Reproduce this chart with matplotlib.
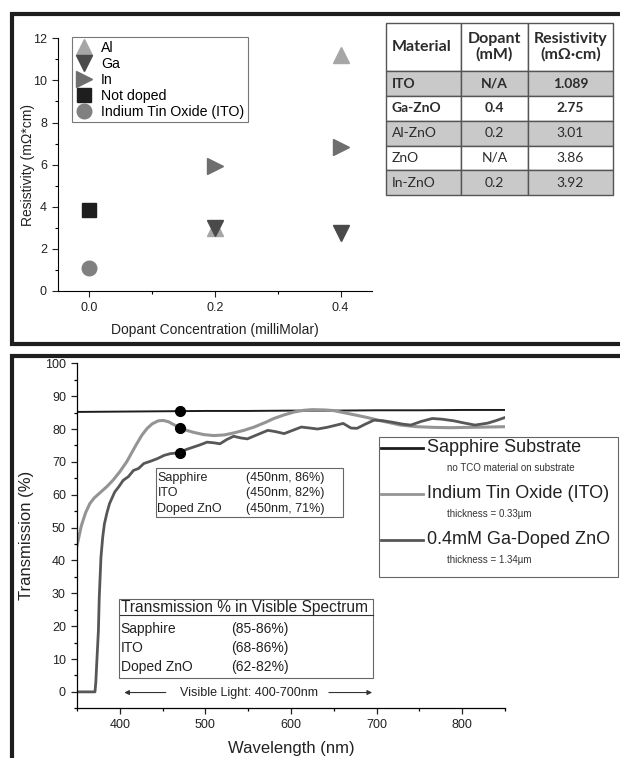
import matplotlib.pyplot as plt
from matplotlib.lines import Line2D
from matplotlib.patches import Rectangle

plt.rcParams['font.family'] = ['Liberation Sans', 'DejaVu Sans']

# --- top panel data: resistivity vs dopant concentration
dopant_al = [0.2, 0.4]
res_al = [3.01, 11.2]
dopant_ga = [0.2, 0.4]
res_ga = [3.0, 2.75]
dopant_in = [0.2, 0.4]
res_in = [5.92, 6.85]
dopant_undoped = [0.0]
res_undoped = [3.86]
dopant_ito = [0.0]
res_ito = [1.089]

table_header = ['Material', 'Dopant\n(mM)', 'Resistivity\n(mΩ·cm)']
table_rows = [
    ['ITO', 'N/A', '1.089'],
    ['Ga-ZnO', '0.4', '2.75'],
    ['Al-ZnO', '0.2', '3.01'],
    ['ZnO', 'N/A', '3.86'],
    ['In-ZnO', '0.2', '3.92'],
]

# --- bottom panel data: transmission spectra
wl_sapphire = [350, 400, 450, 500, 550, 600, 650, 700, 750, 800, 850]
tr_sapphire = [85.2, 85.3, 85.4, 85.5, 85.5, 85.6, 85.6, 85.7, 85.7, 85.8, 85.8]

wl_ito = [350, 355, 360, 365, 370, 376, 385, 392, 400, 408, 414, 420, 426, 432,
          438, 445, 451, 457, 464, 470, 478, 486, 498, 510, 522, 533, 545, 557,
          570, 580, 592, 604, 615, 625, 640, 650, 665, 680, 689, 705, 728, 747,
          767, 786, 806, 830, 850]
tr_ito = [44.5, 50.5, 54.5, 57.3, 59.0, 60.4, 62.5, 64.4, 67.0, 70.0, 72.8, 75.6,
          78.2, 80.2, 81.6, 82.5, 82.6, 82.2, 81.2, 80.4, 79.6, 79.0, 78.3, 78.0,
          78.2, 78.8, 79.6, 80.6, 82.0, 83.2, 84.3, 85.2, 85.7, 85.9, 85.8, 85.6,
          84.8, 84.0, 83.5, 82.5, 81.2, 80.7, 80.5, 80.4, 80.5, 80.6, 80.7]

wl_zno = [350, 371, 372, 373, 375, 376, 378, 380, 382, 385, 388, 394, 399, 404,
          410, 416, 422, 428, 436, 444, 452, 459, 470, 478, 486, 494, 502, 510,
          517, 525, 533, 541, 549, 560, 573, 582, 592, 602, 612, 622, 631, 642,
          650, 661, 670, 677, 687, 697, 708, 720, 730, 740, 752, 765, 776, 790,
          803, 815, 830, 840, 850]
tr_zno = [0.0, 0.0, 3.0, 8.4, 18.6, 28.8, 41.0, 47.0, 51.1, 54.5, 57.3, 60.8,
          62.5, 64.4, 65.5, 67.4, 68.0, 69.5, 70.2, 71.0, 72.0, 72.5, 72.8, 73.8,
          74.5, 75.2, 76.0, 75.8, 75.5, 76.8, 77.8, 77.3, 77.0, 78.2, 79.6, 79.2,
          78.6, 79.6, 80.6, 80.3, 80.0, 80.5, 81.0, 81.7, 80.3, 80.2, 81.5, 82.7,
          82.5, 82.0, 81.5, 81.2, 82.3, 83.2, 83.0, 82.5, 81.8, 81.2, 81.8, 82.6,
          83.5]

point_wl = [470, 470, 470]
point_tr = [85.5, 80.4, 72.8]

at450_names = ['Sapphire', 'ITO', 'Doped ZnO']
at450_values = ['(450nm, 86%)', '(450nm, 82%)', '(450nm, 71%)']
visible_names = ['Sapphire', 'ITO', 'Doped ZnO']
visible_ranges = ['(85-86%)', '(68-86%)', '(62-82%)']

legend_labels = ['Sapphire Substrate', 'Indium Tin Oxide (ITO)', '0.4mM Ga-Doped ZnO']
legend_notes = ['no TCO material on substrate', 'thickness = 0.33µm', 'thickness = 1.34µm']

col_sapphire = '#1c1c1c'
col_ito = '#949494'
col_zno = '#575757'

W, H = 620, 758
fig = plt.figure(figsize=(W / 100, H / 100), dpi=100)


def fx(px):
    return px / W


def fy(py):
    return 1 - py / H


# panel frames
frame_kw = dict(color='#1e1e1e', lw=3.0, transform=fig.transFigure, solid_capstyle='butt')
fig.add_artist(Line2D([fx(10), 1], [fy(14), fy(14)], **frame_kw))
fig.add_artist(Line2D([fx(10), 1], [fy(344), fy(344)], **frame_kw))
fig.add_artist(Line2D([fx(12), fx(12)], [fy(12), fy(346)], **frame_kw))
fig.add_artist(Line2D([fx(10), 1], [fy(355.5), fy(355.5)], **frame_kw))
fig.add_artist(Line2D([fx(12), fx(12)], [fy(354), 0], **frame_kw))

# ---------------- top scatter
ax1 = fig.add_axes([fx(58), fy(291), fx(372 - 58), (291 - 38.3) / H])
ax1.plot(dopant_al, res_al, '^', color='#a6a6a6', ms=11.5, label='Al')
ax1.plot(dopant_ga, res_ga, 'v', color='#4a4a4a', ms=11.5, label='Ga')
ax1.plot(dopant_in, res_in, '>', color='#6e6e6e', ms=11.5, label='In')
ax1.plot(dopant_undoped, res_undoped, 's', color='#1e1e1e', ms=9.5, label='Not doped')
ax1.plot(dopant_ito, res_ito, 'o', color='#808080', ms=10.5, label='Indium Tin Oxide (ITO)')
ax1.set_xlim(-0.05, 0.45)
ax1.set_ylim(0, 12)
ax1.set_xticks([0.0, 0.2, 0.4])
ax1.set_xticks([0.1, 0.3], minor=True)
ax1.set_yticks(range(0, 13, 2))
ax1.set_yticks(range(1, 12, 2), minor=True)
ax1.set_xticklabels(['0.0', '0.2', '0.4'])
ax1.tick_params(labelsize=9, colors='#222', length=4, width=0.8, pad=4)
ax1.tick_params(which='minor', length=2.5, width=0.8)
for s in ['top', 'right']:
    ax1.spines[s].set_visible(False)
for s in ['left', 'bottom']:
    ax1.spines[s].set_linewidth(0.8)
ax1.set_xlabel('Dopant Concentration (milliMolar)', fontsize=10, color='#222')
ax1.set_ylabel('Resistivity (mΩ*cm)', fontsize=10, color='#222')
ax1.xaxis.set_label_coords(0.5, -32 / 252.7)
ax1.yaxis.set_label_coords(-23 / 314, 0.5)
leg1 = ax1.legend(loc='upper left', bbox_to_anchor=(0.045, 1.005), fontsize=10.2,
                  frameon=True, fancybox=False, edgecolor='#555', borderpad=0.25,
                  labelspacing=0.14, handletextpad=0.6, handlelength=1.2,
                  borderaxespad=0)
leg1.get_frame().set_linewidth(0.8)

# ---------------- table
axt = fig.add_axes([fx(386), fy(195), fx(613 - 386), (195 - 23) / H])
axt.axis('off')
tbl = axt.table(cellText=[table_header] + table_rows,
                colWidths=[75, 67, 85], bbox=[0, 0, 1, 1], cellLoc='center')
tbl.auto_set_font_size(False)
row_h = 24.6
header_h = 48
shade = ['#c9c9c9', 'white', '#c9c9c9', 'white', '#c9c9c9']
for (r, c), cell in tbl.get_celld().items():
    cell.set_edgecolor('#555')
    cell.set_linewidth(1.0)
    cell.set_height(header_h if r == 0 else row_h)
    txt = cell.get_text()
    txt.set_fontfamily(['Lato', 'DejaVu Sans'])
    txt.set_color('#2b2b2b')
    if r == 0:
        txt.set_fontsize(11.5)
        txt.set_fontweight('bold')
        cell.set_facecolor('white')
        txt.set_linespacing(1.1)
    else:
        txt.set_fontsize(10)
        cell.set_facecolor(shade[r - 1])
        if r <= 2:
            txt.set_fontweight('bold')
    if c == 0:
        txt.set_horizontalalignment('left')
        cell.PAD = 0.08

# ---------------- bottom transmission
ax2 = fig.add_axes([fx(77), fy(708.3), fx(505 - 77), (708.3 - 363.3) / H])
ax2.plot(wl_sapphire, tr_sapphire, color=col_sapphire, lw=1.4)
ax2.plot(wl_ito, tr_ito, color=col_ito, lw=2.2)
ax2.plot(wl_zno, tr_zno, color=col_zno, lw=2.0)
ax2.plot(point_wl, point_tr, 'o', color='black', ms=7, zorder=5)
ax2.set_xlim(350, 850)
ax2.set_ylim(-5, 100)
ax2.set_xticks(range(400, 801, 100))
ax2.set_xticks(range(350, 851, 50), minor=True)
ax2.set_yticks(range(0, 101, 10))
ax2.set_yticks(range(-5, 100, 5), minor=True)
ax2.tick_params(labelsize=9, colors='#222', length=4.5, width=0.9)
ax2.tick_params(which='minor', length=2.5, width=0.9)
for s in ['top', 'right']:
    ax2.spines[s].set_visible(False)
for s in ['left', 'bottom']:
    ax2.spines[s].set_linewidth(0.9)
ax2.set_xlabel('Wavelength (nm)', fontsize=12, color='#222', labelpad=7)
ax2.set_ylabel('Transmission (%)', fontsize=12, color='#222', labelpad=8)

# box: values at 450 nm
ax2.add_patch(Rectangle((442.5, 53.1), 661 - 442.5, 68 - 53.1, fill=False,
                        edgecolor='#666', lw=0.8))
for i, (n, v) in enumerate(zip(at450_names, at450_values)):
    yy = 65.2 - i * 4.7
    ax2.text(444, yy, n, fontsize=9, va='center', color='#222')
    ax2.text(548, yy, v, fontsize=9, va='center', color='#222')

# box: visible spectrum ranges
ax2.add_patch(Rectangle((399.5, 4.3), 695.5 - 399.5, 28.4 - 4.3, facecolor='white',
                        edgecolor='#666', lw=0.8, zorder=3))
ax2.text(401, 25.6, 'Transmission % in Visible Spectrum', fontsize=11.2,
         va='center', color='#222', zorder=4)
ax2.plot([400.5, 695.5], [23.3, 23.3], color='#333', lw=0.8, zorder=4)
for i, (n, v) in enumerate(zip(visible_names, visible_ranges)):
    yy = 19.2 - i * 5.8
    ax2.text(401, yy, n, fontsize=10, va='center', color='#222', zorder=4)
    ax2.text(530, yy, v, fontsize=10, va='center', color='#222', zorder=4)

# visible light arrows
ax2.text(551, -0.2, 'Visible Light: 400-700nm', fontsize=9, ha='center',
         va='center', color='#222')
arrow_kw = dict(arrowstyle='-|>', color='#333', lw=0.8, mutation_scale=7)
ax2.annotate('', xy=(402, -0.2), xytext=(457, -0.2), arrowprops=arrow_kw)
ax2.annotate('', xy=(698, -0.2), xytext=(641, -0.2), arrowprops=arrow_kw)

# legend box with notes
fig.add_artist(Rectangle((fx(379), fy(577)), fx(618 - 379), (577 - 437) / H,
                         transform=fig.transFigure, fill=False,
                         edgecolor='#666', lw=0.8))
for i, (lab, note, col) in enumerate(zip(legend_labels, legend_notes,
                                         [col_sapphire, col_ito, col_zno])):
    y_main = 448 + i * 46
    fig.add_artist(Line2D([fx(381), fx(423)], [fy(y_main), fy(y_main)],
                          color=col, lw=2.0, transform=fig.transFigure))
    fig.text(fx(427), fy(y_main), lab, fontsize=13, va='center', color='#222')
    fig.text(fx(447), fy(y_main + 20), note, fontsize=7, va='center', color='#333')

fig.savefig('out.png', dpi=100)
